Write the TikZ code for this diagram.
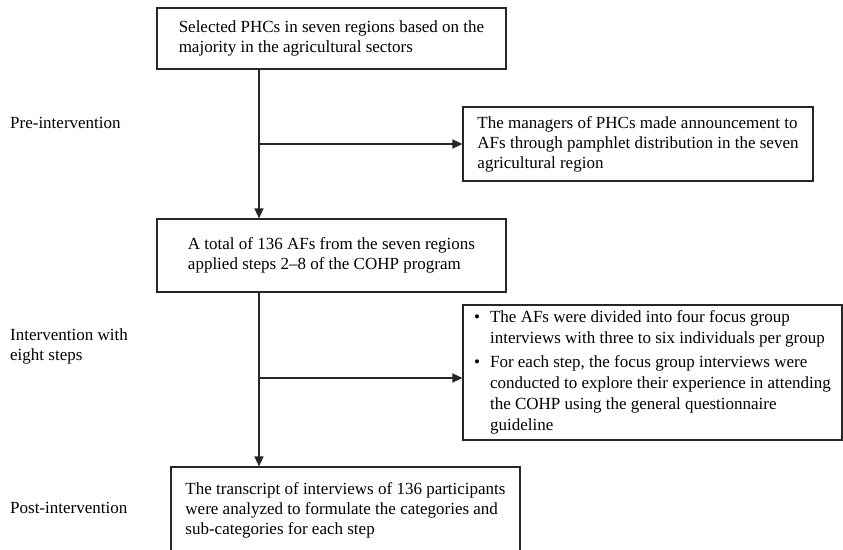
\documentclass[tikz,border=0pt]{standalone}
\usepackage{fontspec}
\setmainfont{Liberation Serif}
\usetikzlibrary{arrows.meta}
\tikzset{
  stagebox/.style={draw=black!85, line width=1.1pt, align=left, inner sep=0pt,
    font=\fontsize{17}{20}\selectfont},
  phase/.style={anchor=west, align=left, inner sep=0pt,
    font=\fontsize{17}{20}\selectfont},
  flow/.style={draw=black!85, line width=1.1pt, -{Triangle[length=10pt,width=9pt]}},
}
\begin{document}
\begin{tikzpicture}[x=1pt,y=-1pt]
  \useasboundingbox (0,0) rectangle (843,549);
  % stages
  \node[stagebox, minimum width=349pt, minimum height=61pt] (sel) at (331.5,38.5)
    {Selected PHCs in seven regions based on the\\majority in the agricultural sectors};
  \node[stagebox, minimum width=350pt, minimum height=74pt] (ann) at (638,144)
    {The managers of PHCs made announcement to\\AFs through pamphlet distribution in the seven\\agricultural region};
  \node[stagebox, minimum width=349pt, minimum height=73pt] (total) at (331.5,255.5)
    {A total of 136 AFs from the seven regions\\applied steps 2--8 of the COHP program};
  \node[stagebox, minimum width=379pt, minimum height=135pt,
        font=\fontsize{17}{21}\selectfont] (focus) at (652.5,372.5)
    {\begin{tabular}{@{}l@{\hspace{10pt}}l@{}}
      \textbullet & The AFs were divided into four focus group\\
                  & interviews with three to six individuals per group\\[3pt]
      \textbullet & For each step, the focus group interviews were\\
                  & conducted to explore their experience in attending\\
                  & the COHP using the general questionnaire\\
                  & guideline
     \end{tabular}};
  \node[stagebox, minimum width=349pt, minimum height=86pt] (post) at (345.5,510)
    {The transcript of interviews of 136 participants\\were analyzed to formulate the categories and\\sub-categories for each step};
  % phases
  \node[phase] (pre) at (10,123) {Pre-intervention};
  \node[phase] (during) at (10,346) {Intervention with\\eight steps};
  \node[phase] (after) at (10,508) {Post-intervention};
  % connectors
  \coordinate (trunk) at (259,0);
  \coordinate (tofocus) at ([yshift=-5.5pt]focus.west);
  \draw[flow] (sel.south -| trunk) -- (total.north -| trunk);
  \draw[flow] (trunk |- ann.west) -- (ann.west);
  \draw[flow] (total.south -| trunk) -- (post.north -| trunk);
  \draw[flow] (trunk |- tofocus) -- (tofocus);
\end{tikzpicture}
\end{document}
